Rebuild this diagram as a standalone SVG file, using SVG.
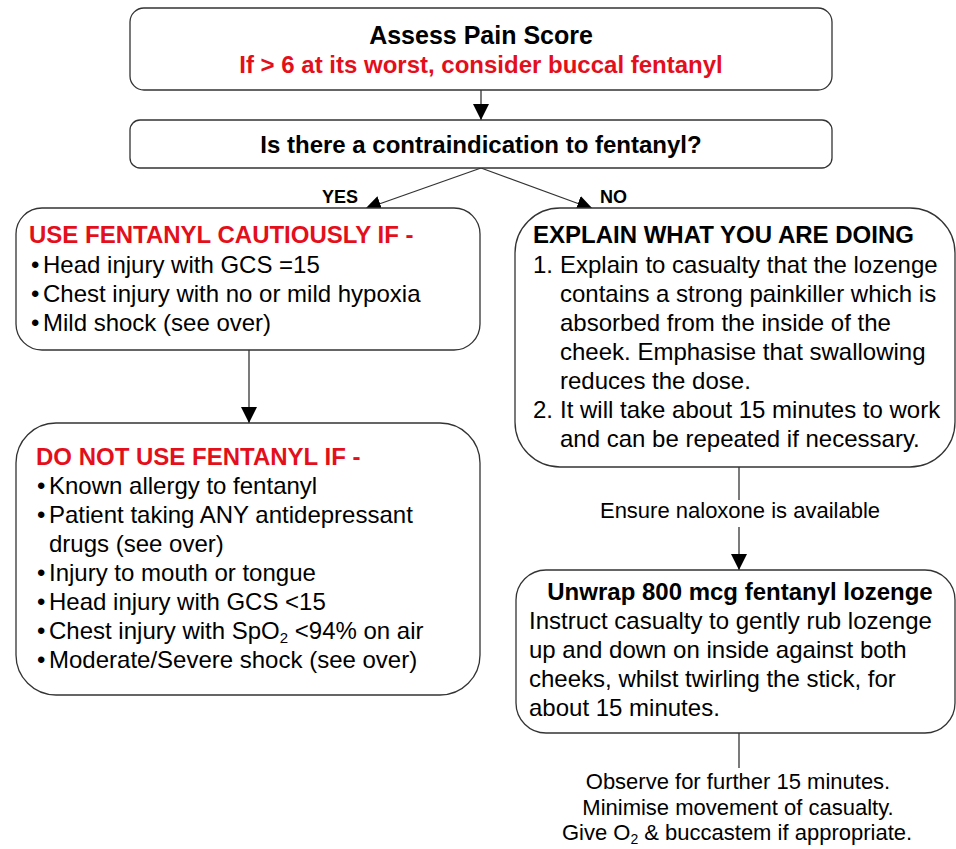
<svg xmlns="http://www.w3.org/2000/svg" width="956" height="849" viewBox="0 0 956 849">
<defs>
<style>
text{font-family:"Liberation Sans",Arial,sans-serif;fill:#000}
.box{fill:#fff;stroke:#333;stroke-width:1.3}
.t{font-size:24px}
.b{font-size:24px;font-weight:bold}
.red{fill:#e3101c}
.s{font-size:22px}
.lbl{font-size:18px;font-weight:bold}
.c{text-anchor:middle}
.ln{stroke:#333;stroke-width:1.3;fill:none}
</style>
<marker id="ah" viewBox="0 0 10 10" refX="10" refY="5" markerUnits="userSpaceOnUse" markerWidth="16" markerHeight="16" orient="auto">
<path d="M0,0 L10,5 L0,10 z" fill="#000"/>
</marker>
</defs>
<rect width="956" height="849" fill="#fff"/>
<g id="connectors">
<line class="ln" x1="481" y1="90" x2="481" y2="120" marker-end="url(#ah)"/>
<line class="ln" x1="481" y1="168" x2="365" y2="209" marker-end="url(#ah)"/>
<line class="ln" x1="481" y1="168" x2="593" y2="209" marker-end="url(#ah)"/>
<line class="ln" x1="249" y1="350" x2="249" y2="423" marker-end="url(#ah)"/>
<line class="ln" x1="739" y1="467" x2="739" y2="500"/>
<line class="ln" x1="739" y1="527" x2="739" y2="570" marker-end="url(#ah)"/>
<line class="ln" x1="739" y1="733" x2="739" y2="768"/>
<text class="lbl" x="322" y="203">YES</text>
<text class="lbl" x="600" y="203">NO</text>
<text class="s c" x="740" y="518">Ensure naloxone is available</text>
</g>
<g id="n1">
<rect class="box" x="130" y="8" width="702" height="82" rx="14"/>
<text class="b c" x="481" y="44" style="font-size:25px">Assess Pain Score</text>
<text class="b c red" x="481" y="73">If &gt; 6 at its worst, consider buccal fentanyl</text>
</g>
<g id="n2">
<rect class="box" x="130" y="120" width="702" height="48" rx="10"/>
<text class="b c" x="481" y="153">Is there a contraindication to fentanyl?</text>
</g>
<g id="n3">
<rect class="box" x="16" y="208" width="464" height="142" rx="26"/>
<text class="b red" x="29" y="243">USE FENTANYL CAUTIOUSLY IF -</text>
<text class="t" x="31" y="273">•</text><text class="t" x="43" y="273">Head injury with GCS =15</text>
<text class="t" x="31" y="302">•</text><text class="t" x="43" y="302">Chest injury with no or mild hypoxia</text>
<text class="t" x="31" y="331">•</text><text class="t" x="43" y="331">Mild shock (see over)</text>
</g>
<g id="n4">
<rect class="box" x="16" y="423" width="464" height="272" rx="40"/>
<text class="b red" x="36" y="465">DO NOT USE FENTANYL IF -</text>
<text class="t" x="37" y="494">•</text><text class="t" x="49" y="494">Known allergy to fentanyl</text>
<text class="t" x="37" y="523">•</text><text class="t" x="49" y="523">Patient taking ANY antidepressant</text>
<text class="t" x="49" y="552">drugs (see over)</text>
<text class="t" x="37" y="581">•</text><text class="t" x="49" y="581">Injury to mouth or tongue</text>
<text class="t" x="37" y="610">•</text><text class="t" x="49" y="610">Head injury with GCS &lt;15</text>
<text class="t" x="37" y="639">•</text><text class="t" x="49" y="639">Chest injury with SpO<tspan dy="4" style="font-size:15px">2</tspan><tspan dy="-4"> &lt;94% on air</tspan></text>
<text class="t" x="37" y="668">•</text><text class="t" x="49" y="668">Moderate/Severe shock (see over)</text>
</g>
<g id="n5">
<rect class="box" x="515" y="208" width="440" height="259" rx="45"/>
<text class="b" x="533" y="243">EXPLAIN WHAT YOU ARE DOING</text>
<text class="t" x="533" y="273">1.</text><text class="t" x="560" y="273">Explain to casualty that the lozenge</text>
<text class="t" x="560" y="302">contains a strong painkiller which is</text>
<text class="t" x="560" y="331">absorbed from the inside of the</text>
<text class="t" x="560" y="360">cheek. Emphasise that swallowing</text>
<text class="t" x="560" y="389">reduces the dose.</text>
<text class="t" x="533" y="418">2.</text><text class="t" x="560" y="418">It will take about 15 minutes to work</text>
<text class="t" x="560" y="447">and can be repeated if necessary.</text>
</g>
<g id="n6">
<rect class="box" x="516" y="570" width="439" height="163" rx="30"/>
<text class="b c" x="740" y="600">Unwrap 800 mcg fentanyl lozenge</text>
<text class="t" x="529" y="629">Instruct casualty to gently rub lozenge</text>
<text class="t" x="529" y="658">up and down on inside against both</text>
<text class="t" x="529" y="687">cheeks, whilst twirling the stick, for</text>
<text class="t" x="529" y="716">about 15 minutes.</text>
</g>
<g id="n7">
<text class="s c" x="738" y="789">Observe for further 15 minutes.</text>
<text class="s c" x="738" y="815">Minimise movement of casualty.</text>
<text class="s c" x="737" y="840">Give O<tspan dy="4" style="font-size:14px">2</tspan><tspan dy="-4"> &amp; buccastem if appropriate.</tspan></text>
</g>
</svg>
